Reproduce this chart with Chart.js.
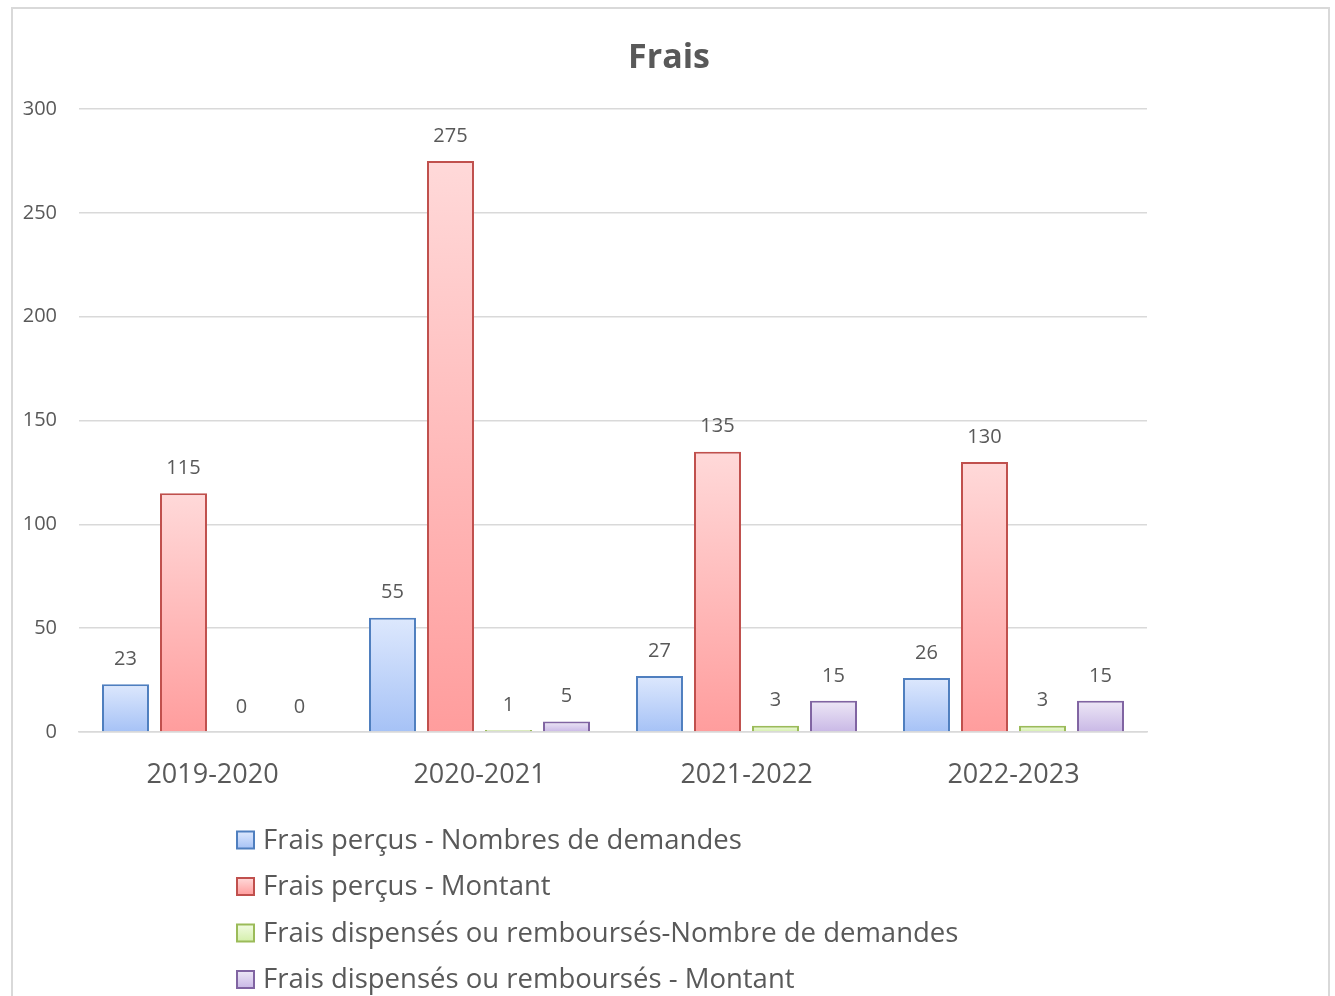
<!DOCTYPE html>
<html>
<head>
<meta charset="utf-8">
<script src="https://cdn.jsdelivr.net/npm/chart.js@4.4.1/dist/chart.umd.min.js"></script>
<style>
  html, body { margin: 0; padding: 0; background: #ffffff; }
  #wrap { position: relative; width: 1335px; height: 996px; overflow: hidden; }
  #frame { position: absolute; left: 11px; top: 7px; width: 1319px; height: 1010px; border: 2px solid #d9d9d9; box-sizing: border-box; }
  canvas { position: absolute; left: 0; top: 0; }
</style>
</head>
<body>
<div id="wrap">
  <div id="frame"></div>
  <canvas id="c" width="1335" height="996"></canvas>
</div>
<script>
const chartTitle = "Frais";
const categories = ["2019-2020", "2020-2021", "2021-2022", "2022-2023"];
const seriesNames = [
  "Frais perçus - Nombres de demandes",
  "Frais perçus - Montant",
  "Frais dispensés ou remboursés-Nombre de demandes",
  "Frais dispensés ou remboursés - Montant"
];
const percusNombre = [23, 55, 27, 26];
const percusMontant = [115, 275, 135, 130];
const dispensesNombre = [0, 1, 3, 3];
const dispensesMontant = [0, 5, 15, 15];
const yTicks = [0, 50, 100, 150, 200, 250, 300];

const FONT = "'Open Sans', 'DejaVu Sans', sans-serif";
const TEXT = "#595959";

const palettes = [
  { top: "#dde8fd", bottom: "#a6c2f6", border: "#4f7fbf" },
  { top: "#ffd9d9", bottom: "#ff9d9d", border: "#c0504d" },
  { top: "#f1fbe2", bottom: "#d4efab", border: "#9bbb59" },
  { top: "#ede7f6", bottom: "#c9b8e6", border: "#8064a2" }
];

function barFill(idx) {
  return function(ctx) {
    const p = palettes[idx];
    const chart = ctx.chart;
    if (!chart.chartArea || ctx.type !== 'data') return p.bottom;
    const ys = chart.scales.y;
    const top = ys.getPixelForValue(ctx.raw);
    const base = ys.getPixelForValue(0);
    if (!isFinite(top) || !isFinite(base) || Math.abs(base - top) < 1) return p.bottom;
    const g = chart.ctx.createLinearGradient(0, top, 0, base);
    g.addColorStop(0, p.top);
    g.addColorStop(1, p.bottom);
    return g;
  };
}
function barBorderWidth(ctx) {
  return (ctx.raw === 0) ? 0 : 2;
}

const seriesData = [percusNombre, percusMontant, dispensesNombre, dispensesMontant];

const labelPlugin = {
  id: 'customLabels',
  afterDatasetsDraw(chart) {
    const c = chart.ctx;
    c.save();
    c.font = "20px " + FONT;
    c.fillStyle = TEXT;
    c.textAlign = 'center';
    c.textBaseline = 'middle';
    chart.data.datasets.forEach((ds, i) => {
      const meta = chart.getDatasetMeta(i);
      meta.data.forEach((el, j) => {
        c.fillText(String(ds.data[j]), el.x, el.y - 25);
      });
    });
    c.restore();
  },
  afterDraw(chart) {
    const c = chart.ctx;
    c.save();
    // title
    c.font = "bold 34px " + FONT;
    c.fillStyle = TEXT;
    c.textAlign = 'center';
    c.textBaseline = 'middle';
    c.fillText(chartTitle, 669, 58);
    // legend
    const x0 = 237, y0 = 840, step = 46.5, box = 17;
    c.font = "27.5px " + FONT;
    c.textAlign = 'left';
    chart.data.datasets.forEach((ds, i) => {
      const yc = y0 + i * step;
      const p = palettes[i];
      const g = c.createLinearGradient(0, yc - box / 2, 0, yc + box / 2);
      g.addColorStop(0, p.top);
      g.addColorStop(1, p.bottom);
      c.fillStyle = g;
      c.fillRect(x0, yc - box / 2, box, box);
      c.strokeStyle = p.border;
      c.lineWidth = 2;
      c.strokeRect(x0, yc - box / 2, box, box);
      c.fillStyle = TEXT;
      c.fillText(ds.label, x0 + 26, yc + 1);
    });
    c.restore();
  }
};

new Chart(document.getElementById('c'), {
  type: 'bar',
  data: {
    labels: categories,
    datasets: seriesData.map((d, i) => ({
      label: seriesNames[i],
      data: d,
      backgroundColor: barFill(i),
      borderColor: palettes[i].border,
      borderWidth: barBorderWidth,
      borderSkipped: 'bottom',
      categoryPercentage: 0.869,
      barPercentage: 0.81
    }))
  },
  options: {
    responsive: false,
    animation: false,
    devicePixelRatio: 1,
    layout: { padding: { top: 109, right: 188, bottom: 184, left: 0 } },
    plugins: {
      legend: { display: false },
      title: { display: false },
      tooltip: { enabled: false }
    },
    scales: {
      x: {
        grid: { display: false, drawTicks: false },
        border: { display: true, color: '#d9d9d9', width: 1.5 },
        ticks: { color: TEXT, font: { family: FONT, size: 27 }, padding: 27 },
        afterFit(s) { s.height = 80; }
      },
      y: {
        min: 0,
        max: 300,
        afterBuildTicks(s) { s.ticks = yTicks.map(v => ({ value: v })); },
        grid: { color: '#d9d9d9', lineWidth: 1.5, drawTicks: false },
        border: { display: false },
        ticks: { color: TEXT, font: { family: FONT, size: 20 }, padding: 22 },
        afterFit(s) { s.width = 79; }
      }
    }
  },
  plugins: [labelPlugin]
});
</script>
</body>
</html>
